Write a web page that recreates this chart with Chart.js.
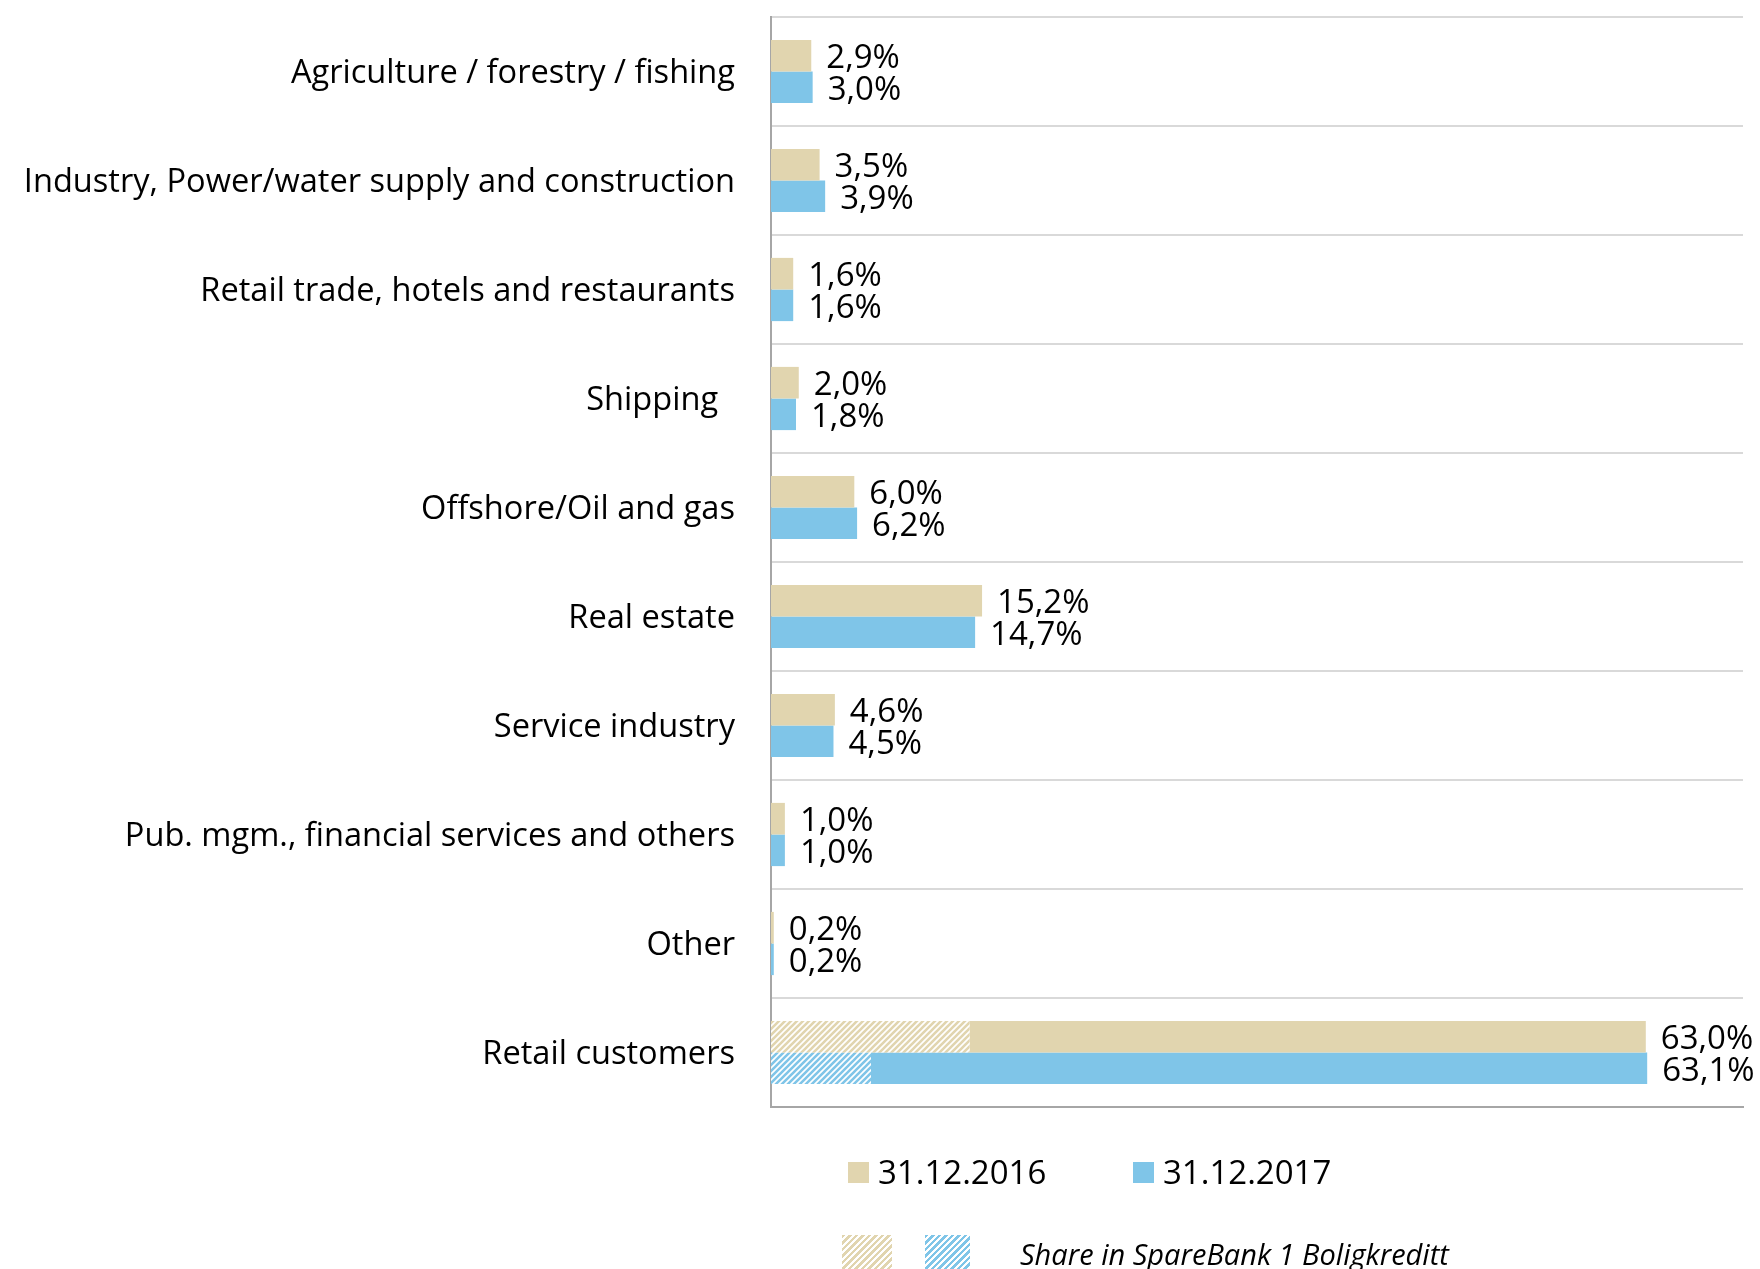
<!DOCTYPE html>
<html>
<head>
<meta charset="utf-8">
<script src="https://cdn.jsdelivr.net/npm/chart.js@4.4.1/dist/chart.umd.min.js"></script>
<style>
  html, body { margin: 0; padding: 0; background: #fff; }
  #wrap { position: relative; width: 1760px; height: 1269px; overflow: hidden; }
  canvas { position: absolute; left: 0; top: 0; }
  .leg { position: absolute; font-family: "Open Sans", sans-serif; font-size: 33px; color: #000; white-space: nowrap; line-height: 1; }
  .sw { position: absolute; }
</style>
</head>
<body>
<div id="wrap">
  <canvas id="c" width="1760" height="1269"></canvas>
  <div class="sw" style="left:848px;top:1162px;width:21px;height:21px;background:#E1D5AF;"></div>
  <div class="leg" style="left:878px;top:1155px;">31.12.2016</div>
  <div class="sw" style="left:1133px;top:1162px;width:21px;height:21px;background:#7FC5E8;"></div>
  <div class="leg" style="left:1163px;top:1155px;">31.12.2017</div>
  <div class="sw" style="left:842px;top:1235px;width:50px;height:34px;background:repeating-linear-gradient(135deg,#E1D5AF 0 2.5px,#fff 2.5px 4.6px);"></div>
  <div class="sw" style="left:925px;top:1235px;width:45px;height:34px;background:repeating-linear-gradient(135deg,#7FC5E8 0 2.5px,#fff 2.5px 4.6px);"></div>
  <div class="leg" style="left:1020px;top:1239px;font-style:italic;font-size:29px;">Share in SpareBank 1 Boligkreditt</div>
</div>
<script>
const categories = [
  "Agriculture / forestry / fishing",
  "Industry, Power/water supply and construction",
  "Retail trade, hotels and restaurants",
  "Shipping  ",
  "Offshore/Oil and gas",
  "Real estate",
  "Service industry",
  "Pub. mgm., financial services and others",
  "Other",
  "Retail customers"
];
const values2016 = [2.9, 3.5, 1.6, 2.0, 6.0, 15.2, 4.6, 1.0, 0.2, 63.0];
const values2017 = [3.0, 3.9, 1.6, 1.8, 6.2, 14.7, 4.5, 1.0, 0.2, 63.1];
// Share held in SpareBank 1 Boligkreditt (hatched part of the bar)
const boligkreditt2016 = [0, 0, 0, 0, 0, 0, 0, 0, 0, 14.3];
const boligkreditt2017 = [0, 0, 0, 0, 0, 0, 0, 0, 0, 7.2];

const TAN = '#E1D5AF';
const BLUE = '#7FC5E8';

function hatch(color) {
  const s = 6;
  const c = document.createElement('canvas');
  c.width = s; c.height = s;
  const g = c.getContext('2d');
  g.fillStyle = '#fff';
  g.fillRect(0, 0, s, s);
  g.strokeStyle = color;
  g.lineWidth = 2.6;
  g.beginPath();
  g.moveTo(-1, s + 1); g.lineTo(s + 1, -1);
  g.moveTo(-1, 1); g.lineTo(1, -1);
  g.moveTo(s - 1, s + 1); g.lineTo(s + 1, s - 1);
  g.stroke();
  return g.createPattern(c, 'repeat');
}

const fmt = v => v.toFixed(1).replace('.', ',') + '%';

const labelPlugin = {
  id: 'endLabels',
  afterDatasetsDraw(chart) {
    const ctx = chart.ctx;
    ctx.save();
    ctx.font = '33px "Open Sans", sans-serif';
    ctx.fillStyle = '#000';
    ctx.textBaseline = 'middle';
    ctx.textAlign = 'left';
    const pairs = [[1, values2016], [3, values2017]];
    pairs.forEach(([di, vals]) => {
      const meta = chart.getDatasetMeta(di);
      meta.data.forEach((el, i) => {
        ctx.fillText(fmt(vals[i]), el.x + 15, el.y + 3);
      });
    });
    ctx.restore();
  }
};

new Chart(document.getElementById('c'), {
  type: 'bar',
  data: {
    labels: categories,
    datasets: [
      { label: '2016 share', data: boligkreditt2016, backgroundColor: hatch(TAN), stack: 's16' },
      { label: '31.12.2016', data: values2016.map((v, i) => v - boligkreditt2016[i]), backgroundColor: TAN, stack: 's16' },
      { label: '2017 share', data: boligkreditt2017, backgroundColor: hatch(BLUE), stack: 's17' },
      { label: '31.12.2017', data: values2017.map((v, i) => v - boligkreditt2017[i]), backgroundColor: BLUE, stack: 's17' }
    ]
  },
  options: {
    indexAxis: 'y',
    responsive: false,
    animation: false,
    devicePixelRatio: 1,
    layout: { padding: { left: 0, top: 17, right: 17, bottom: 162 } },
    datasets: { bar: { categoryPercentage: 0.58, barPercentage: 1.0, borderWidth: 0 } },
    plugins: { legend: { display: false }, tooltip: { enabled: false } },
    scales: {
      x: {
        stacked: true,
        min: 0, max: 70,
        ticks: { display: false },
        grid: { display: false, drawTicks: false },
        border: { display: true, color: '#a6a6a6', width: 2 },
        afterFit(s) { s.height = 0; s.paddingLeft = 0; s.paddingRight = 0; }
      },
      y: {
        grid: { offset: true, color: '#d9d9d9', lineWidth: 2, drawTicks: false },
        border: { display: true, color: '#a6a6a6', width: 2 },
        ticks: { color: '#000', padding: 36, labelOffset: 2, font: { family: '"Open Sans", sans-serif', size: 32.6 } },
        afterFit(s) { s.width = 771; s.paddingTop = 0; s.paddingBottom = 0; }
      }
    }
  },
  plugins: [labelPlugin]
});
</script>
</body>
</html>
